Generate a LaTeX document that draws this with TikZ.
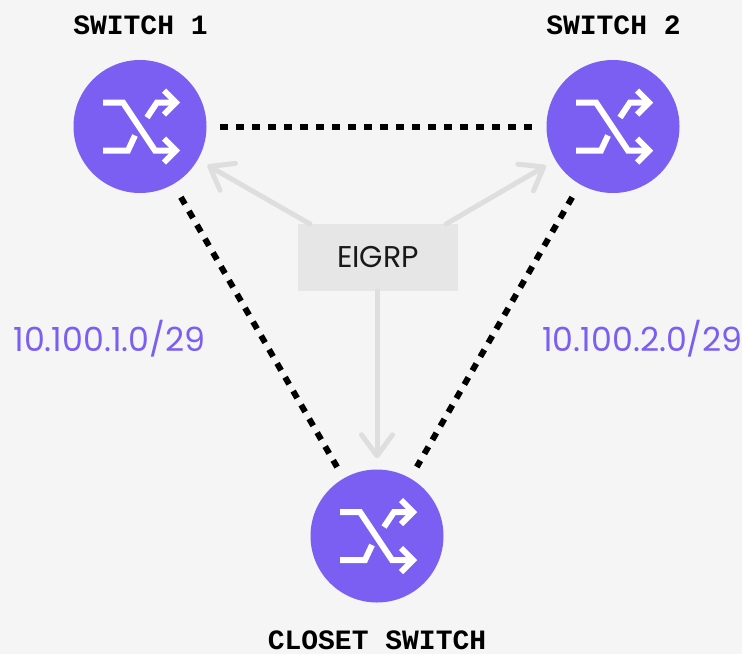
\documentclass[tikz,border=0pt]{standalone}
\usepackage{fontspec}
\newfontfamily\labelfont{Liberation Mono}[BoldFont={Liberation Mono Bold}]
\newfontfamily\geofont{Poppins}
\usetikzlibrary{arrows.meta}
\definecolor{bgc}{HTML}{F5F5F5}
\definecolor{purp}{HTML}{7B5EF2}
\definecolor{boxc}{HTML}{E6E6E6}
\definecolor{arrc}{HTML}{DEDEDE}
\tikzset{
  sw/.style={circle,fill=purp,inner sep=0pt,minimum size=133pt},
  swname/.style={font=\labelfont\bfseries\fontsize{28}{28}\selectfont,text=black,inner sep=0pt},
  netlabel/.style={font=\geofont\fontsize{33.2}{33.2}\selectfont,text=purp,inner sep=0pt},
  link/.style={line width=6pt,black,dash pattern=on 8pt off 8pt},
  flow/.style={line width=5pt,arrc,line cap=round,-{Straight Barb[length=21pt,width=31pt,line width=5pt,round]},shorten >=11pt},
  iconline/.style={line width=6pt,white},
  iconhead/.style={line width=6pt,white,line join=miter},
  pics/shuffle/.style={code={
    \draw[iconline] (-37,-24) -- (-17,-24) -- (15,24) -- (35,24);
    \draw[iconline] (-37,24) -- (-12,24) -- (-5,9);
    \draw[iconline] (7,-9) -- (17,-24) -- (35,-24);
    \draw[iconhead] (24,-36) -- (36,-24) -- (24,-12);
    \draw[iconhead] (24,12) -- (36,24) -- (24,36);
  }}
}
\begin{document}
\begin{tikzpicture}[x=1pt,y=-1pt]
\useasboundingbox (0,0) rectangle (742,654);
\fill[bgc] (0,0) rectangle (742,654);
\node[sw] (s1) at (140,126.5) {};
\node[sw] (s2) at (613,126.5) {};
\node[sw] (s3) at (377,536) {};
\pic at (s1) {shuffle};
\pic at (s2) {shuffle};
\pic at (s3) {shuffle};
\node[fill=boxc,minimum width=160pt,minimum height=67pt,inner sep=0pt,font=\geofont\fontsize{30}{30}\selectfont,text=black!90] (eigrp) at (378,257.5) {EIGRP};
\coordinate (e1) at (310,224);
\coordinate (e2) at (446,224);
\coordinate (e3) at (377,291);
\draw[flow] (e1) -- (s1);
\draw[flow] (e2) -- (s2);
\draw[flow] (e3) -- (s3);
\draw[link,shorten <=13.5pt,shorten >=14.5pt] (s1) -- (s2);
\draw[link,shorten <=15pt,shorten >=13pt] (s1) -- (s3);
\draw[link,shorten <=15pt,shorten >=13pt] (s2) -- (s3);
\node[swname] (n1) at (140.5,25) {SWITCH 1};
\node[swname] (n2) at (613.5,25) {SWITCH 2};
\node[swname,anchor=base] (n3) at (377,649) {CLOSET SWITCH};
\node[netlabel] (l1) at (109.5,339) {10.100.1.0/29};
\node[netlabel] (l2) at (642.5,339) {10.100.2.0/29};
\end{tikzpicture}
\end{document}
